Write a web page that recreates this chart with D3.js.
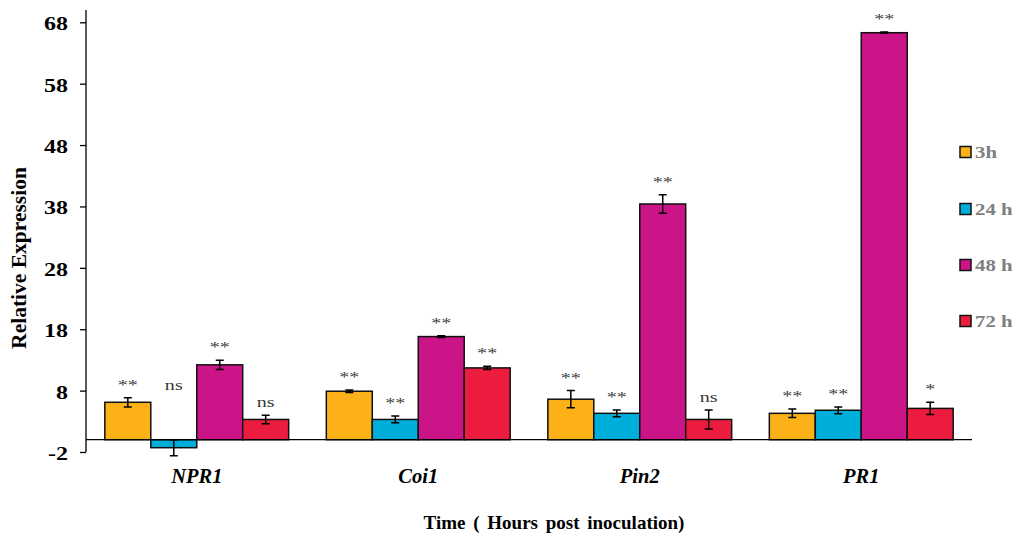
<!DOCTYPE html>
<html>
<head>
<meta charset="utf-8">
<script src="https://cdn.jsdelivr.net/npm/d3@7"></script>
<style>
  body { margin: 0; background: #fff; }
  svg, svg text { font-family: "Liberation Serif", "Times New Roman", serif; }
</style>
</head>
<body>
<div id="chart"></div>
<script>
// genes on the x axis
var genes = ["NPR1", "Coi1", "Pin2", "PR1"];
// time points (series)
var series = ["3h", "24 h", "48 h", "72 h"];
var colors = ["#FBB117", "#00AEDB", "#CC1489", "#EC1C3E"];

// relative expression, one array per time point (order of genes)
var v3h  = [6.1, 7.9, 6.6, 4.3];
var v24h = [-1.3, 3.3, 4.3, 4.8];
var v48h = [12.2, 16.8, 38.4, 66.3];
var v72h = [3.3, 11.7, 3.3, 5.1];

// error bars
var e3h  = [0.75, 0.2, 1.4, 0.7];
var e24h = [1.3, 0.55, 0.55, 0.55];
var e48h = [0.75, 0.15, 1.5, 0.1];
var e72h = [0.7, 0.25, 1.55, 1.0];

// significance labels
var s3h  = ["**", "**", "**", "**"];
var s24h = ["ns", "**", "**", "**"];
var s48h = ["**", "**", "**", "**"];
var s72h = ["ns", "**", "ns", "*"];

var yTicks = [-2, 8, 18, 28, 38, 48, 58, 68];

var values = [v3h, v24h, v48h, v72h];
var errors = [e3h, e24h, e48h, e72h];
var sigs = [s3h, s24h, s48h, s72h];

var width = 1014, height = 536;
var plotLeft = 86, plotRight = 972, plotTop = 10, plotBottom = 452;
var stretch = 1.3; // the small texts look wider than plain Times

var svg = d3.select("#chart").append("svg")
    .attr("width", width)
    .attr("height", height);

var x0 = d3.scaleBand().domain(genes).range([plotLeft, plotRight]).paddingInner(0.17).paddingOuter(0.085);
var x1 = d3.scaleBand().domain(series).range([0, x0.bandwidth()]);
var y = d3.scaleLinear().domain([-2, 70]).range([plotBottom, plotTop]);

// build flat table
var rows = [];
genes.forEach(function(g, gi) {
  series.forEach(function(s, si) {
    rows.push({gene: g, series: s, si: si, gi: gi,
      value: values[si][gi], err: errors[si][gi], sig: sigs[si][gi]});
  });
});

// Y axis
var yAxis = svg.append("g")
    .attr("transform", "translate(" + plotLeft + ",0)")
    .call(d3.axisLeft(y).tickValues(yTicks).tickSize(6).tickSizeOuter(0)
      .tickFormat(function(d) { return String(d); }));
yAxis.attr("font-family", null);
yAxis.select(".domain").attr("stroke", "#000").attr("stroke-width", 1.3).attr("d", "M0," + plotTop + "V" + plotBottom);
yAxis.selectAll(".tick line").attr("stroke", "#000").attr("stroke-width", 1.3);
yAxis.selectAll(".tick text")
    .attr("fill", "#000")
    .attr("x", null)
    .attr("dy", "0.4em")
    .attr("transform", "translate(-18,0) scale(" + stretch + ",1)")
    .style("font-size", "18.5px")
    .style("font-weight", "bold");

// bars
var bar = svg.append("g").selectAll("g")
    .data(rows).enter().append("g")
    .attr("transform", function(d) { return "translate(" + (x0(d.gene) + x1(d.series)) + ",0)"; });

bar.append("rect")
    .attr("x", 0)
    .attr("width", x1.bandwidth())
    .attr("y", function(d) { return y(Math.max(0, d.value)); })
    .attr("height", function(d) { return Math.abs(y(d.value) - y(0)); })
    .attr("fill", function(d) { return colors[d.si]; })
    .attr("stroke", "#111")
    .attr("stroke-width", 1.5);

// X axis line (at zero)
svg.append("line")
    .attr("x1", plotLeft).attr("x2", plotRight)
    .attr("y1", y(0)).attr("y2", y(0))
    .attr("stroke", "#000").attr("stroke-width", 1.3);

// error bars
var cx = x1.bandwidth() / 2, cap = 4;
bar.append("path")
    .attr("fill", "none")
    .attr("stroke", "#000")
    .attr("stroke-width", 1.5)
    .attr("d", function(d) {
      var a = y(d.value + d.err), b = y(d.value - d.err);
      return "M" + (cx - cap) + "," + a + "H" + (cx + cap) +
             "M" + cx + "," + a + "V" + b +
             "M" + (cx - cap) + "," + b + "H" + (cx + cap);
    });

// significance labels
bar.append("text")
    .attr("transform", function(d) {
      var v = d.value >= 0 ? d.value + d.err : values[d.si - 1][d.gi] + errors[d.si - 1][d.gi];
      return "translate(" + cx + "," + (y(v) - 8) + ") scale(" + stretch + ",1)";
    })
    .attr("text-anchor", "middle")
    .attr("fill", "#3a3a3a")
    .style("font-size", "15.5px")
    .text(function(d) { return d.sig; });

// gene labels
svg.append("g").selectAll("text")
    .data(genes).enter().append("text")
    .attr("x", function(d) { return x0(d) + x0.bandwidth() / 2; })
    .attr("y", 483)
    .attr("text-anchor", "middle")
    .style("font-size", "20.5px")
    .style("font-weight", "bold")
    .style("font-style", "italic")
    .text(function(d) { return d; });

// axis titles
svg.append("text")
    .attr("x", 554).attr("y", 529)
    .attr("text-anchor", "middle")
    .style("font-size", "19px")
    .style("font-weight", "bold")
    .style("word-spacing", "3px")
    .text("Time ( Hours post inoculation)");

svg.append("text")
    .attr("transform", "translate(26,258) rotate(-90)")
    .attr("text-anchor", "middle")
    .style("font-size", "21.5px")
    .style("font-weight", "bold")
    .text("Relative Expression");

// legend
var legY = [152, 209, 265, 321];
var leg = svg.append("g").selectAll("g")
    .data(series).enter().append("g")
    .attr("transform", function(d, i) { return "translate(960," + legY[i] + ")"; });
leg.append("rect")
    .attr("x", 0).attr("y", -5.5).attr("width", 11).attr("height", 11)
    .attr("fill", function(d, i) { return colors[i]; })
    .attr("stroke", "#111").attr("stroke-width", 1.5);
leg.append("text")
    .attr("transform", "translate(15,5.5) scale(" + stretch + ",1)")
    .attr("fill", "#7f7f7f")
    .style("font-size", "16px")
    .style("font-weight", "bold")
    .text(function(d) { return d; });
</script>
</body>
</html>
